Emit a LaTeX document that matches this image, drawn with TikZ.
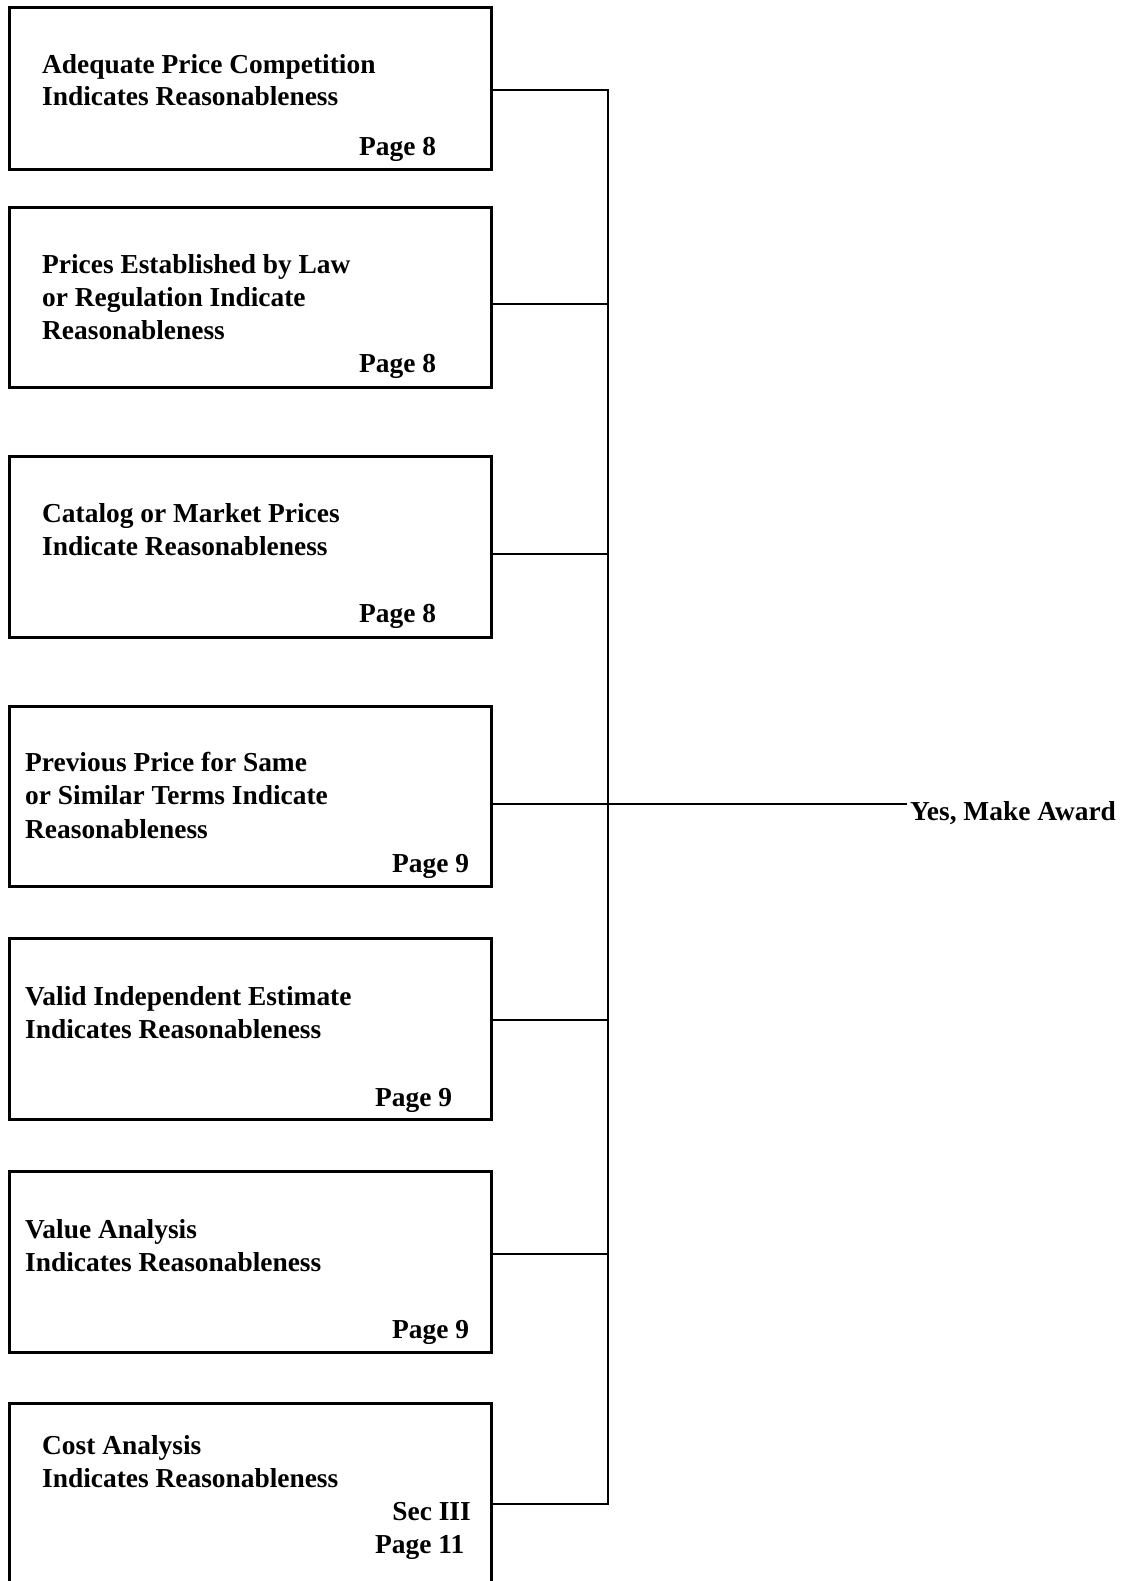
\documentclass[tikz,border=0pt]{standalone}
\usepackage{fontspec}
\setmainfont{Liberation Serif}
\begin{document}
\begin{tikzpicture}[x=1pt,y=-1pt,
  box/.style={draw,line width=3pt,inner sep=0pt},
  conn/.style={line width=2pt},
  txt/.style={anchor=base west,inner sep=0pt,font=\fontsize{27.4}{32.3}\selectfont\bfseries},
  txtr/.style={anchor=base east,inner sep=0pt,font=\fontsize{27.4}{32.3}\selectfont\bfseries}]
\useasboundingbox (0,0) rectangle (1124,1581);
\clip (0,0) rectangle (1124,1581);
% boxes
\node[box,fit/.style={},minimum width=482pt,minimum height=162pt,anchor=north west] (b1) at (8,6) {};
\node[box,minimum width=482pt,minimum height=180pt,anchor=north west] (b2) at (8,206) {};
\node[box,minimum width=482pt,minimum height=181pt,anchor=north west] (b3) at (8,455) {};
\node[box,minimum width=482pt,minimum height=180pt,anchor=north west] (b4) at (8,705) {};
\node[box,minimum width=482pt,minimum height=181pt,anchor=north west] (b5) at (8,937) {};
\node[box,minimum width=482pt,minimum height=181pt,anchor=north west] (b6) at (8,1170) {};
\node[box,minimum width=482pt,minimum height=190pt,anchor=north west] (b7) at (8,1402) {};
% texts
\node[txt] (t1a) at (42,74) {Adequate Price Competition};
\node[txt] (t1b) at (42,106) {Indicates Reasonableness};
\node[txt] (p1) at (359,156) {Page 8};
\node[txt] (t2a) at (42,273) {Prices Established by Law};
\node[txt] (t2b) at (42,306) {or Regulation Indicate};
\node[txt] (t2c) at (42,339) {Reasonableness};
\node[txt] (p2) at (359,372) {Page 8};
\node[txt] (t3a) at (42,522) {Catalog or Market Prices};
\node[txt] (t3b) at (42,555) {Indicate Reasonableness};
\node[txt] (p3) at (359,622) {Page 8};
\node[txt] (t4a) at (25,771) {Previous Price for Same};
\node[txt] (t4b) at (25,804) {or Similar Terms Indicate};
\node[txt] (t4c) at (25,838) {Reasonableness};
\node[txt] (p4) at (392,872) {Page 9};
\node[txt] (t5a) at (25,1005) {Valid Independent Estimate};
\node[txt] (t5b) at (25,1038) {Indicates Reasonableness};
\node[txt] (p5) at (375,1106) {Page 9};
\node[txt] (t6a) at (25,1238) {Value Analysis};
\node[txt] (t6b) at (25,1271) {Indicates Reasonableness};
\node[txt] (p6) at (392,1338) {Page 9};
\node[txt] (t7a) at (42,1454) {Cost Analysis};
\node[txt] (t7b) at (42,1487) {Indicates Reasonableness};
\node[txtr] (s7) at (471,1520) {Sec III};
\node[txt] (p7) at (375,1553) {Page 11};
\node[txt] (yes) at (910,820) {Yes, Make Award};
% junctions
\coordinate (j1) at (608,90);
\coordinate (j2) at (608,304);
\coordinate (j3) at (608,554);
\coordinate (j4) at (608,804);
\coordinate (j5) at (608,1020);
\coordinate (j6) at (608,1254);
\coordinate (j7) at (608,1504);
\coordinate (yend) at (907,804);
% connectors
\draw[conn] (b1.east |- j1) -- (j1);
\draw[conn] (b2.east |- j2) -- (j2);
\draw[conn] (b3.east |- j3) -- (j3);
\draw[conn] (b4.east |- j4) -- (yend);
\draw[conn] (b5.east |- j5) -- (j5);
\draw[conn] (b6.east |- j6) -- (j6);
\draw[conn] (b7.east |- j7) -- (j7);
\draw[conn,line cap=rect] (j1) -- (j7);
\end{tikzpicture}
\end{document}
